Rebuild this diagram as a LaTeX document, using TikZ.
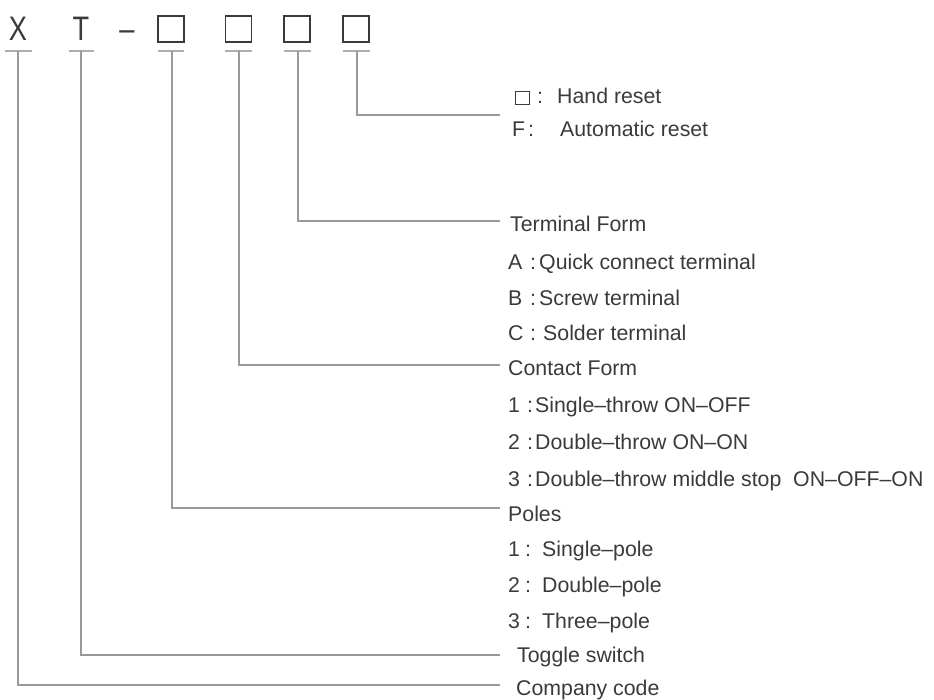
\documentclass[tikz,border=0pt]{standalone}
\usepackage{fontspec}
\setmainfont{Liberation Sans}
\usetikzlibrary{calc}
\definecolor{txt}{HTML}{3A3A3A}
\definecolor{ln}{HTML}{9A9A9A}
\newcommand\myitem[4]{\makebox[#1pt][l]{#3}\makebox[#2pt][l]{:}#4}
\newcommand\hsq{{\setlength\fboxsep{0pt}\setlength\fboxrule{0.9pt}\fbox{\rule{0pt}{12.5pt}\hspace{12.5pt}}}}
\begin{document}
\begin{tikzpicture}[x=1pt,y=-1pt,
  lab/.style={anchor=base west, inner sep=0pt, text=txt, font=\fontsize{21.3}{25}\selectfont},
  big/.style={anchor=base, inner sep=0pt, text=txt, font=\fontsize{34}{38}\selectfont},
  sq/.style={draw=txt, line width=1.2pt, minimum size=26pt, inner sep=0pt},
  bar/.style={draw=ln!80, line width=1.3pt},
  conn/.style={draw=ln, line width=1.5pt}]
\useasboundingbox (0,0) rectangle (934,700);
% code letters
\node[big] (cX) at (18,41) {\scalebox{0.8}[1]{X}};
\node[big] (cT) at (81,41) {\scalebox{0.8}[1]{T}};
\node[big] (cD) at (127,41) {\scalebox{0.8}[1]{--}};
\node[sq] (s1) at (171,29) {};
\node[sq] (s2) at (238.5,29) {};
\node[sq] (s3) at (297,29) {};
\node[sq] (s4) at (356,29) {};
% ticks
\coordinate (bX) at (18,51);
\coordinate (bT) at (81,51);
\coordinate (b1) at (172,51);
\coordinate (b2) at (239,51);
\coordinate (b3) at (298,51);
\coordinate (b4) at (357,51);
\draw[bar] (5,51) -- (32,51);
\draw[bar] (69,51) -- (94,51);
\draw[bar] (158,51) -- (184,51);
\draw[bar] (225,51) -- (252,51);
\draw[bar] (284,51) -- (311,51);
\draw[bar] (343,51) -- (370,51);
% line ends
\coordinate (e4) at (500,115);
\coordinate (e3) at (500,221);
\coordinate (e2) at (500,365);
\coordinate (e1) at (500,508);
\coordinate (eT) at (500,655);
\coordinate (eX) at (500,685);
\draw[conn] (b4) |- (e4);
\draw[conn] (b3) |- (e3);
\draw[conn] (b2) |- (e2);
\draw[conn] (b1) |- (e1);
\draw[conn] (bT) |- (eT);
\draw[conn] (bX) |- (eX);
% labels
\node[lab] (hand) at (515,104) {\myitem{22}{20}{\hsq}{Hand reset}};
\node[lab] (auto) at (512,137) {\myitem{16}{32}{F}{Automatic reset}};
\node[lab] (term) at (510,232) {Terminal Form};
\node[lab] (tA) at (508,270) {\myitem{22}{9}{A}{Quick connect terminal}};
\node[lab] (tB) at (508,306) {\myitem{22}{9}{B}{Screw terminal}};
\node[lab] (tC) at (508,341) {\myitem{22}{13}{C}{Solder terminal}};
\node[lab] (cont) at (508,375) {Contact Form};
\node[lab] (c1) at (508,412) {\myitem{19}{8}{1}{Single--throw ON--OFF}};
\node[lab] (c2) at (508,449) {\myitem{19}{8}{2}{Double--throw ON--ON}};
\node[lab] (c3) at (508,486) {\myitem{19}{8}{3}{Double--throw middle stop\ \ ON--OFF--ON}};
\node[lab] (pole) at (508,521) {Poles};
\node[lab] (p1) at (508,556) {\myitem{17}{17}{1}{Single--pole}};
\node[lab] (p2) at (508,592) {\myitem{17}{17}{2}{Double--pole}};
\node[lab] (p3) at (508,628) {\myitem{17}{17}{3}{Three--pole}};
\node[lab] (tog) at (517,662) {Toggle switch};
\node[lab] (comp) at (516,695) {Company code};
\end{tikzpicture}
\end{document}
